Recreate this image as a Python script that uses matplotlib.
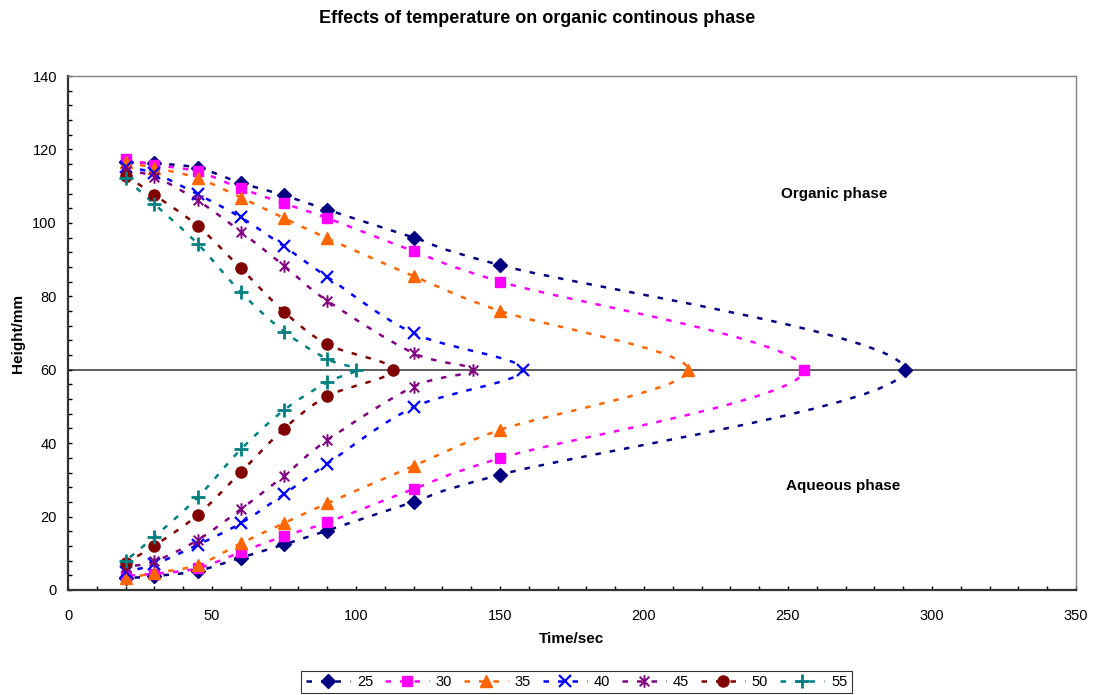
import numpy as np
import matplotlib
matplotlib.use("Agg")
import matplotlib.pyplot as plt
from matplotlib.path import Path
from matplotlib.patches import PathPatch
from matplotlib.lines import Line2D
from matplotlib.ticker import MultipleLocator

plt.rcParams['font.family'] = ['Liberation Sans', 'DejaVu Sans']

# temperatures (legend labels)
temps = ['25', '30', '35', '40', '45', '50', '55']

# time points, organic branch goes out, aqueous branch comes back
x25 = [20, 30, 45, 60, 75, 90, 120, 150, 290.5, 150, 120, 90, 75, 60, 45, 30, 20]
y25 = [116.5, 116.2, 115, 110.9, 107.5, 103.6, 96, 88.5, 60, 31.4, 24, 16.2, 12.4, 8.8, 5.2, 3.8, 3.2]

x30 = [20, 30, 45, 60, 75, 90, 120, 150, 255.7, 150, 120, 90, 75, 60, 45, 30, 20]
y30 = [117.3, 115.8, 114, 109.4, 105.3, 101.3, 92.3, 84, 60, 35.9, 27.5, 18.4, 14.7, 10.3, 5.9, 4.4, 3.9]

x35 = [20, 30, 45, 60, 75, 90, 120, 150, 215.4, 150, 120, 90, 75, 60, 45, 30, 20]
y35 = [116.5, 115, 112.2, 106.9, 101.3, 95.8, 85.5, 76, 60, 43.6, 33.8, 23.6, 18.2, 12.7, 6.8, 4.6, 3.2]

x40 = [20, 30, 45, 60, 75, 90, 120, 157.9, 120, 90, 75, 60, 45, 30, 20]
y40 = [115.2, 113.5, 107.8, 101.5, 93.6, 85.3, 69.9, 60, 49.8, 34.4, 26.1, 18.2, 12.3, 7, 5]

x45 = [20, 30, 45, 60, 75, 90, 120, 140.7, 120, 90, 75, 60, 45, 30, 20]
y45 = [114.2, 112.6, 106.1, 97.6, 88.3, 78.8, 64.5, 60, 55.4, 40.8, 31.1, 22, 13.6, 7.8, 6.3]

x50 = [20, 30, 45, 60, 75, 90, 113, 90, 75, 60, 45, 30, 20]
y50 = [112.9, 107.6, 99.2, 87.6, 75.8, 66.9, 60, 52.8, 43.9, 32.1, 20.4, 12.1, 7.3]

x55 = [20, 30, 45, 60, 75, 90, 100, 90, 75, 60, 45, 30, 20]
y55 = [112.1, 105.1, 94.3, 81.1, 70.4, 62.9, 60, 56.6, 49, 38.3, 25.2, 14.5, 8.0]

xs = [x25, x30, x35, x40, x45, x50, x55]
ys = [y25, y30, y35, y40, y45, y50, y55]

colors = ['#000080', '#FF00FF', '#FF6600', '#0000FF', '#800080', '#800000', '#008080']

# excel style star: an x with a vertical bar
star = Path([(-1, -1), (1, 1), (-1, 1), (1, -1), (0, -1.3), (0, 1.3)],
            [Path.MOVETO, Path.LINETO, Path.MOVETO, Path.LINETO, Path.MOVETO, Path.LINETO])
markers = ['D', 's', '^', 'x', star, 'o', '+']
msizes = [7, 7.5, 8.5, 8.5, 9, 8, 9.5]
mews = [1, 1, 1, 1.6, 1.4, 1, 2]
dash = (0, (2.2, 3.6))


def smooth_path(x, y):
    # bezier smoothing through the points (like excel's smoothed line)
    p = np.column_stack([x, y]).astype(float)
    n = len(p)
    verts = [p[0]]
    codes = [Path.MOVETO]
    for i in range(n - 1):
        p0 = p[i - 1] if i > 0 else p[i]
        p3 = p[i + 2] if i + 2 < n else p[i + 1]
        c1 = p[i] + (p[i + 1] - p0) / 6.0
        c2 = p[i + 1] - (p3 - p[i]) / 6.0
        verts += [c1, c2, p[i + 1]]
        codes += [Path.CURVE4] * 3
    return Path(verts, codes)


fig = plt.figure(figsize=(10.94, 6.95), dpi=100)
ax = fig.add_axes([0.0622, 0.1511, 0.9213, 0.7395])

handles = []
for i in range(len(temps)):
    patch = PathPatch(smooth_path(xs[i], ys[i]), facecolor='none', edgecolor=colors[i],
                      lw=1.8, linestyle=dash, zorder=2)
    ax.add_patch(patch)
    ax.plot(xs[i], ys[i], linestyle='none', marker=markers[i], ms=msizes[i],
            mew=mews[i], color=colors[i], mec=colors[i], zorder=3)
    handles.append(Line2D([], [], color=colors[i], lw=1.8, linestyle=dash,
                          marker=markers[i], ms=msizes[i], mew=mews[i]))

ax.axhline(60, color='#333333', lw=1.1, zorder=1)

ax.set_xlim(0, 350)
ax.set_ylim(0, 140)
ax.xaxis.set_major_locator(MultipleLocator(50))
ax.xaxis.set_minor_locator(MultipleLocator(10))
ax.yaxis.set_major_locator(MultipleLocator(20))
ax.yaxis.set_minor_locator(MultipleLocator(4))
ax.tick_params(which='both', direction='in', length=3, width=1, labelsize=10.5, colors='black')
ax.tick_params(axis='x', pad=14)
ax.tick_params(axis='y', pad=8)

for s in ['left', 'bottom']:
    ax.spines[s].set_color('#333333')
    ax.spines[s].set_linewidth(1.6)
for s in ['top', 'right']:
    ax.spines[s].set_color('#808080')
    ax.spines[s].set_linewidth(1)

ax.set_xlabel('Time/sec', fontsize=11, fontweight='bold', labelpad=6)
ax.set_ylabel('Height/mm', fontsize=11, fontweight='bold', labelpad=5)
fig.text(0.491, 0.974, 'Effects of temperature on organic continous phase', fontsize=13,
         fontweight='bold', ha='center', va='center')

ax.text(266, 108, 'Organic phase', fontsize=11, fontweight='bold', ha='center', va='center')
ax.text(269, 28.3, 'Aqueous phase', fontsize=11, fontweight='bold', ha='center', va='center')

leg = fig.legend(handles, temps, loc='center', bbox_to_anchor=(0.527, 0.0187), ncol=7,
                 fontsize=10.5, frameon=True, fancybox=False, edgecolor='black',
                 handlelength=3.0, columnspacing=0.8, handletextpad=0.5, borderpad=0.3)
leg.get_frame().set_linewidth(0.8)

fig.savefig('out.png', dpi=100)
